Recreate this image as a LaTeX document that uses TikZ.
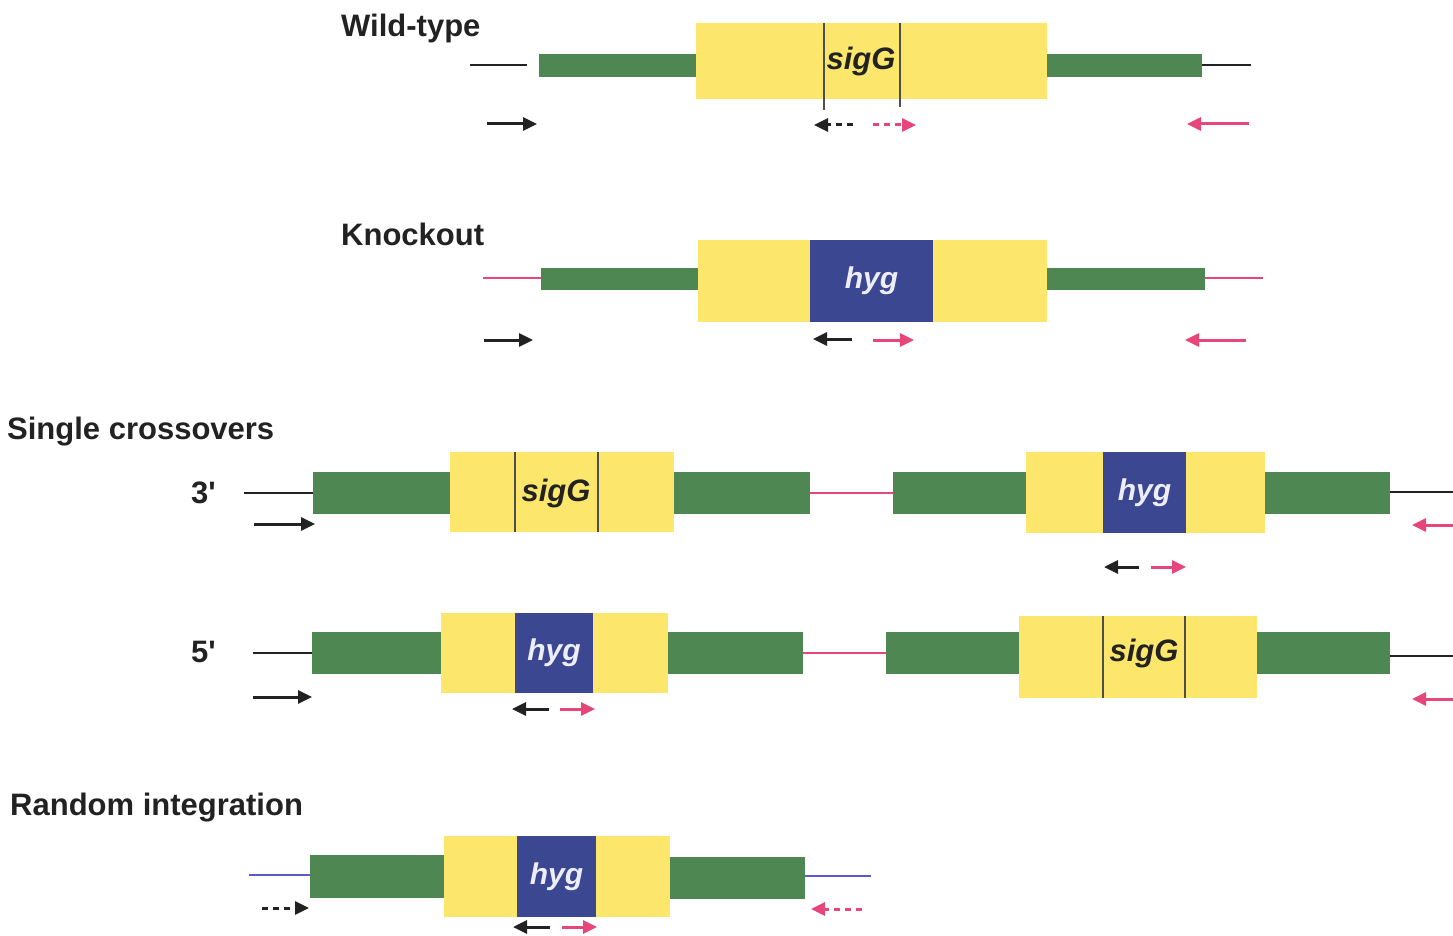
\documentclass[tikz,border=0pt]{standalone}
\usepackage{fontspec}
\setmainfont{Liberation Sans}
\usetikzlibrary{arrows.meta}
\definecolor{ylw}{HTML}{FCE66B}
\definecolor{grn}{HTML}{4F8752}
\definecolor{nvy}{HTML}{3B4790}
\definecolor{pnk}{HTML}{E6467A}
\definecolor{blu}{HTML}{5A5AC8}
\definecolor{ink}{HTML}{222222}
\definecolor{hygtxt}{HTML}{EEEEFA}
\newcommand\gbox[7]{\node[#6, minimum width={#4-#2}, minimum height={#5-#3}] (#1) at ({(#2+#4)/2},{(#3+#5)/2}) {#7};}
\tikzset{
  blk/.style={rectangle, inner sep=0pt, outer sep=0pt, draw=none},
  grnbox/.style={blk, fill=grn},
  ylwbox/.style={blk, fill=ylw},
  hygbox/.style={blk, fill=nvy, text=hygtxt, font=\fontsize{30}{32}\selectfont\bfseries\itshape},
  sigtxt/.style={inner sep=0pt, text=ink, font=\fontsize{31}{33}\selectfont\bfseries\itshape},
  lbl/.style={anchor=west, inner sep=0pt, text=ink, font=\fontsize{31}{33}\selectfont\bfseries},
  sigl/.style={draw=ink!80, line width=1.3pt},
  flank/.style={line width=2.4pt},
  prim/.style={line width=3pt, -{Triangle[length=14pt,width=13pt]}},
  dprim/.style={prim, dash pattern=on 6pt off 5pt},
}
\begin{document}
\begin{tikzpicture}[x=1pt,y=-1pt]
\useasboundingbox (0,0) rectangle (1453,936);
% ---------- labels
\node[lbl] (lwt) at (341,28) {Wild-type};
\node[lbl] (lko) at (341,234) {Knockout};
\node[lbl] (lsc) at (7,432) {Single crossovers};
\node[lbl] (l3) at (191,493) {3\textquotesingle};
\node[lbl] (l5) at (191,652) {5\textquotesingle};
\node[lbl] (lri) at (10,808) {Random integration};

% ---------- Wild-type
\gbox{wtL}{539}{54}{696}{77}{grnbox}{}
\gbox{wtY}{696}{23}{1047}{99}{ylwbox}{}
\gbox{wtR}{1047}{54}{1202}{77}{grnbox}{}
\node[sigtxt] (wtS) at (861,61) {sigG};
\draw[sigl] (824,23) -- (824,110);
\draw[sigl] (900,23) -- (900,107);
\coordinate (wa) at (470,65); \coordinate (wb) at (527,65);
\draw[flank, ink] (wa) -- (wb);
\coordinate (wc) at (1251,65);
\draw[flank, ink] (wtR.east |- wc) -- (wc);
\draw[prim, ink] (487,124) -- (537,124);
\draw[dprim, ink] (853,125) -- (814,125);
\draw[dprim, pnk] (873,125) -- (916,125);
\draw[prim, pnk] (1249,124) -- (1187,124);

% ---------- Knockout
\gbox{koL}{541}{268}{698}{290}{grnbox}{}
\gbox{koY}{698}{240}{1047}{322}{ylwbox}{}
\gbox{koH}{810}{240}{933}{322}{hygbox}{hyg}
\gbox{koR}{1047}{268}{1205}{290}{grnbox}{}
\coordinate (ka) at (483,278); \coordinate (kb) at (1263,278);
\draw[flank, pnk] (ka) -- (ka -| koL.west);
\draw[flank, pnk] (koR.east |- kb) -- (kb);
\draw[prim, ink] (484,340) -- (533,340);
\draw[prim, ink] (852,339) -- (813,339);
\draw[prim, pnk] (873,340) -- (914,340);
\draw[prim, pnk] (1246,340) -- (1185,340);

% ---------- 3' single crossover
\gbox{tA}{313}{472}{450}{514}{grnbox}{}
\gbox{tY1}{450}{452}{674}{532}{ylwbox}{}
\gbox{tB}{674}{472}{810}{514}{grnbox}{}
\node[sigtxt] (tS) at (556,493) {sigG};
\draw[sigl] (515,452) -- (515,532);
\draw[sigl] (598,452) -- (598,532);
\gbox{tC}{893}{472}{1026}{514}{grnbox}{}
\gbox{tY2}{1026}{452}{1265}{533}{ylwbox}{}
\gbox{tH}{1103}{452}{1186}{533}{hygbox}{hyg}
\gbox{tD}{1265}{472}{1390}{514}{grnbox}{}
\coordinate (ta) at (244,493); \coordinate (tb) at (1453,492);
\draw[flank, ink] (ta) -- (ta -| tA.west);
\draw[flank, pnk] (tB.east) -- (tC.west);
\draw[flank, ink] (tD.east |- tb) -- (tb);
\draw[prim, ink] (254,524) -- (315,524);
\draw[prim, pnk] (1458,525) -- (1412,525);
\draw[prim, ink] (1139,567) -- (1104,567);
\draw[prim, pnk] (1151,567) -- (1186,567);

% ---------- 5' single crossover
\gbox{fA}{312}{632}{441}{674}{grnbox}{}
\gbox{fY1}{441}{613}{668}{693}{ylwbox}{}
\gbox{fH}{515}{613}{593}{693}{hygbox}{hyg}
\gbox{fB}{668}{632}{803}{674}{grnbox}{}
\gbox{fC}{886}{632}{1019}{674}{grnbox}{}
\gbox{fY2}{1019}{616}{1257}{698}{ylwbox}{}
\node[sigtxt] (fS) at (1144,653) {sigG};
\draw[sigl] (1103,616) -- (1103,698);
\draw[sigl] (1185,616) -- (1185,698);
\gbox{fD}{1257}{632}{1390}{674}{grnbox}{}
\coordinate (fa) at (253,653); \coordinate (fb) at (1453,656);
\draw[flank, ink] (fa) -- (fa -| fA.west);
\draw[flank, pnk] (fB.east) -- (fC.west);
\draw[flank, ink] (fD.east |- fb) -- (fb);
\draw[prim, ink] (253,697) -- (312,697);
\draw[prim, ink] (549,709) -- (512,709);
\draw[prim, pnk] (560,709) -- (595,709);
\draw[prim, pnk] (1458,699) -- (1412,699);

% ---------- Random integration
\gbox{rA}{310}{855}{444}{898}{grnbox}{}
\gbox{rY}{444}{836}{670}{917}{ylwbox}{}
\gbox{rH}{517}{836}{596}{917}{hygbox}{hyg}
\gbox{rB}{670}{857}{805}{899}{grnbox}{}
\coordinate (ra) at (249,875); \coordinate (rb) at (871,876);
\draw[flank, blu] (ra) -- (ra -| rA.west);
\draw[flank, blu] (rB.east |- rb) -- (rb);
\draw[dprim, ink] (262,908) -- (309,908);
\draw[dprim, pnk] (862,909) -- (811,909);
\draw[prim, ink] (550,927) -- (513,927);
\draw[prim, pnk] (562,927) -- (597,927);
\end{tikzpicture}
\end{document}
